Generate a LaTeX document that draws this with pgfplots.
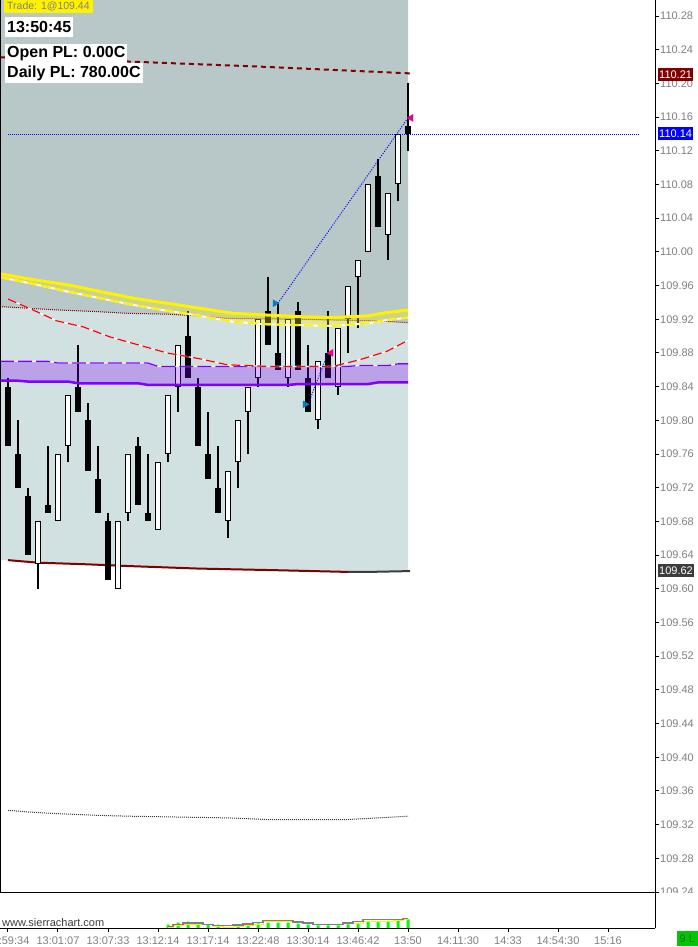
\documentclass[border=0pt]{standalone}
\usepackage{pgfplots}
\pgfplotsset{compat=1.18}
\usepackage{pgfplotstable}
\usepackage{fontspec}
\setmainfont{Liberation Sans}

\definecolor{bgdark}{RGB}{184,199,199}
\definecolor{bglight}{RGB}{209,224,224}
\definecolor{dred}{RGB}{128,0,0}
\definecolor{purp}{RGB}{128,0,255}
\definecolor{tblue}{RGB}{0,128,192}
\definecolor{pblue}{RGB}{0,0,255}
\definecolor{lgray}{RGB}{128,128,128}
\definecolor{dgray}{RGB}{60,60,60}
\definecolor{sgreen}{RGB}{0,255,0}

% range bars: index, open, high, low, close
\pgfplotstableread{
i  o      h      l      c
0  109.84 109.85 109.77 109.77
1  109.76 109.80 109.72 109.72
2  109.71 109.72 109.64 109.64
4  109.70 109.77 109.69 109.69
7  109.84 109.89 109.81 109.81
8  109.80 109.82 109.74 109.74
9  109.73 109.77 109.69 109.69
10 109.68 109.69 109.61 109.61
13 109.77 109.78 109.70 109.70
14 109.69 109.76 109.68 109.68
18 109.90 109.93 109.85 109.85
19 109.84 109.85 109.77 109.77
20 109.76 109.81 109.73 109.73
21 109.72 109.77 109.69 109.69
26 109.93 109.97 109.89 109.89
27 109.88 109.94 109.86 109.86
29 109.93 109.94 109.86 109.86
30 109.85 109.89 109.81 109.81
32 109.88 109.93 109.85 109.85
37 110.09 110.11 110.03 110.03
40 110.15 110.20 110.12 110.14
}\downbars

\pgfplotstableread{
i  o      h      l      c
3  109.63 109.68 109.60 109.68
5  109.68 109.76 109.68 109.76
6  109.77 109.83 109.75 109.83
11 109.60 109.68 109.60 109.68
12 109.69 109.76 109.68 109.76
15 109.67 109.75 109.67 109.75
16 109.76 109.83 109.75 109.83
17 109.84 109.89 109.81 109.89
22 109.68 109.74 109.66 109.74
23 109.75 109.80 109.72 109.80
24 109.81 109.84 109.76 109.84
25 109.85 109.92 109.84 109.92
28 109.85 109.92 109.84 109.92
31 109.80 109.87 109.79 109.87
33 109.84 109.91 109.83 109.91
34 109.92 109.96 109.88 109.96
35 109.97 109.99 109.91 109.99
36 110.00 110.08 110.00 110.08
38 110.02 110.07 109.99 110.07
39 110.08 110.14 110.06 110.14
}\upbars

\pgfplotsset{
  seg/.style 2 args={draw=none, no markers, error bars/.cd, y dir=plus, y explicit,
    error mark=none, error bar style={line width=#1, draw=#2, solid}},
}

\begin{document}
\begin{tikzpicture}[x=1pt,y=1pt]
\fill[white] (0,0) rectangle (698,-947);
\path[use as bounding box] (0,0) rectangle (698,-947);

\begin{axis}[
  at={(0pt,0pt)}, anchor=north west, scale only axis,
  width=655pt, height=892pt,
  xmin=-0.8, xmax=64.7, ymin=109.24, ymax=110.299,
  hide x axis, axis on top,
  axis line style={black, line width=1pt},
  ytick={109.24,109.28,109.32,109.36,109.40,109.44,109.48,109.52,109.56,109.60,109.64,109.68,109.72,109.76,109.80,109.84,109.88,109.92,109.96,110.00,110.04,110.08,110.12,110.16,110.20,110.24,110.28},
  ytick pos=right, yticklabel pos=right,
  tick align=outside, major tick length=4pt,
  tick style={black, line width=1pt},
  scaled y ticks=false,
  /pgf/number format/assume math mode=true,
  yticklabel style={font=\fontsize{11}{11}\selectfont, text=lgray, anchor=west, inner sep=1pt,
    /pgf/number format/fixed, /pgf/number format/fixed zerofill, /pgf/number format/precision=2},
]
% background zones
\addplot[fill=bgdark, draw=none] coordinates {(-0.8,110.299) (40,110.299) (40,109.916) (37,109.918) (29,109.920) (22,109.921) (19,109.924) (16,109.926) (12,109.927) (9,109.929) (5,109.931) (2,109.933) (-0.8,109.935)};
\addplot[fill=bglight, draw=none] coordinates {(-0.8,109.935) (2,109.933) (5,109.931) (9,109.929) (12,109.927) (16,109.926) (19,109.924) (22,109.921) (29,109.920) (37,109.918) (40,109.916) (40,109.621) (36,109.620) (34,109.620) (27,109.622) (19,109.624) (12,109.627) (8,109.629) (3,109.631) (0,109.634) (-0.8,109.634)};
% reference lines
\addplot[dred, line width=1pt, dash pattern=on 1pt off 1pt] coordinates {(-0.8,109.935) (2,109.933) (5,109.931) (9,109.929) (12,109.927) (16,109.926) (19,109.924) (22,109.921) (29,109.920) (37,109.918) (40,109.916)};
\addplot[dred, line width=2pt] coordinates {(0,109.634) (3,109.631) (8,109.629) (12,109.627) (19,109.624) (27,109.622) (34,109.620)};
\addplot[dgray, line width=2pt] coordinates {(34,109.620) (36,109.620) (40.2,109.621)};
\addplot[dgray, line width=1pt, dash pattern=on 1pt off 1pt] coordinates {(0,109.337) (2,109.335) (5,109.333) (9,109.331) (12,109.330) (17,109.329) (22,109.328) (26,109.326) (34,109.326) (37,109.328) (40,109.330)};
\addplot[dred, line width=2pt, dash pattern=on 5pt off 4pt] coordinates {(-0.8,110.231) (12,110.226) (25,110.220) (40,110.212) (40.5,110.211)};
% candles
\addplot[seg={2pt}{black}] table[x=i, y=l, y error expr=\thisrow{h}-\thisrow{l}] {\downbars};
\addplot[seg={2pt}{black}] table[x=i, y=l, y error expr=\thisrow{h}-\thisrow{l}] {\upbars};
\addplot[seg={6pt}{black}] table[x=i, y=c, y error expr=\thisrow{o}-\thisrow{c}] {\downbars};
\addplot[seg={6pt}{black}] table[x=i, y=o, y error expr=\thisrow{c}-\thisrow{o}] {\upbars};
\addplot[seg={4pt}{white}] table[x=i, y expr=\thisrow{o}+0.00119, y error expr=\thisrow{c}-\thisrow{o}-0.00238] {\upbars};
% yellow band
\addplot[fill=yellow, fill opacity=0.3, draw=none] coordinates {(-0.8,109.974) (2.5,109.967) (5.9,109.961) (9.2,109.953) (12.5,109.945) (15.9,109.939) (19.2,109.933) (22.5,109.927) (25.9,109.925) (29.2,109.923) (32.5,109.922) (35.9,109.924) (37.9,109.928) (40,109.931) (40,109.922) (37.9,109.919) (35.9,109.915) (32.5,109.912) (29.2,109.913) (25.9,109.914) (22.5,109.917) (19.2,109.924) (15.9,109.930) (12.5,109.937) (9.2,109.945) (5.9,109.953) (2.5,109.962) (-0.8,109.970)};
\addplot[yellow, line width=3pt] coordinates {(-0.8,109.974) (2.5,109.967) (5.9,109.961) (9.2,109.953) (12.5,109.945) (15.9,109.939) (19.2,109.933) (22.5,109.927) (25.9,109.925) (29.2,109.923) (32.5,109.922) (35.9,109.924) (37.9,109.928) (40,109.931)};
\addplot[white, line width=2pt] coordinates {(-0.8,109.970) (2.5,109.962) (5.9,109.953) (9.2,109.945) (12.5,109.937) (15.9,109.930) (19.2,109.924) (22.5,109.917) (25.9,109.914) (29.2,109.913) (32.5,109.912) (35.9,109.915) (37.9,109.919) (40,109.922)};
\addplot[yellow, line width=2pt, dash pattern=on 10pt off 4pt] coordinates {(-0.8,109.970) (2.5,109.962) (5.9,109.953) (9.2,109.945) (12.5,109.937) (15.9,109.930) (19.2,109.924) (22.5,109.917) (25.9,109.914) (29.2,109.913) (32.5,109.912) (35.9,109.915) (37.9,109.919) (40,109.922)};
% purple band
\addplot[fill=purp, fill opacity=0.28, draw=none] coordinates {(-0.8,109.870) (4,109.870) (5,109.868) (14,109.868) (15,109.864) (34,109.864) (35,109.865) (38,109.865) (39,109.867) (40,109.867) (40,109.845) (37,109.845) (36,109.843) (29,109.843) (28,109.842) (14,109.842) (13,109.844) (7,109.844) (6,109.846) (2,109.846) (1,109.847) (-0.8,109.847)};
\addplot[white, line width=1.3pt] coordinates {(-0.8,109.870) (4,109.870) (5,109.868) (14,109.868) (15,109.864) (34,109.864) (35,109.865) (38,109.865) (39,109.867) (40,109.867)};
\addplot[purp, line width=1.3pt, dash pattern=on 14pt off 4pt] coordinates {(-0.8,109.870) (4,109.870) (5,109.868) (14,109.868) (15,109.864) (34,109.864) (35,109.865) (38,109.865) (39,109.867) (40,109.867)};
\addplot[purp, line width=2.5pt] coordinates {(-0.8,109.847) (1,109.847) (2,109.846) (6,109.846) (7,109.844) (13,109.844) (14,109.842) (28,109.842) (29,109.843) (36,109.843) (37,109.845) (40,109.845)};
% red dashed average
\addplot[white, line width=1.2pt] coordinates {(0,109.944) (2.5,109.931) (4.9,109.918) (7.5,109.911) (10.2,109.899) (13.2,109.889) (15.9,109.880) (19.2,109.873) (21.9,109.866) (25.9,109.864) (32.5,109.864) (35.2,109.872) (37.9,109.882) (40,109.895)};
\addplot[red, line width=1.2pt, dash pattern=on 9pt off 4pt] coordinates {(0,109.944) (2.5,109.931) (4.9,109.918) (7.5,109.911) (10.2,109.899) (13.2,109.889) (15.9,109.880) (19.2,109.873) (21.9,109.866) (25.9,109.864) (32.5,109.864) (35.2,109.872) (37.9,109.882) (40,109.895)};
% last price and trades
\addplot[draw=pblue, line width=1pt, dash pattern=on 1pt off 1pt] coordinates {(0,110.1393) (63.2,110.1393)};
\addplot[draw=pblue, line width=1pt, dash pattern=on 1pt off 1.5pt] coordinates {(27,109.939) (40,110.159)};
\addplot[draw=pblue, line width=1pt, dash pattern=on 1pt off 1.5pt] coordinates {(30,109.819) (32,109.880)};
\addplot[only marks, mark=triangle*, mark size=4pt, mark options={rotate=-90, fill=tblue, draw=tblue}] coordinates {(26.7,109.939) (29.7,109.819)};
\addplot[only marks, mark=triangle*, mark size=4pt, mark options={rotate=90, fill=magenta, draw=magenta}] coordinates {(40.3,110.159) (32.3,109.880)};
\coordinate (v1) at (axis cs:64.7,110.21);
\coordinate (v2) at (axis cs:64.7,110.14);
\coordinate (v3) at (axis cs:64.7,109.622);
\end{axis}

\fill[white] (655.6,-892.5) rectangle (698,-928);

\begin{axis}[
  at={(0pt,-892pt)}, anchor=north west, scale only axis,
  width=655pt, height=36pt,
  xmin=-0.8, xmax=64.7, ymin=0, ymax=36,
  axis x line=box, axis y line*=right,
  axis line style={black, line width=1pt},
  axis background/.style={fill=white},
  ytick=\empty,
  xtick={0,5,...,60},
  xticklabels={12:59:34,13:01:07,13:07:33,13:12:14,13:17:14,13:22:48,13:30:14,13:46:42,13:50,14:11:30,14:33,14:54:30,15:16},
  xtick pos=left, tick align=outside, major tick length=4pt,
  tick style={black, line width=1pt},
  xticklabel style={font=\fontsize{11}{11}\selectfont, text=lgray, inner sep=1pt, yshift=-4pt},
]
\addplot[ybar, bar width=3pt, fill=sgreen, draw=none] coordinates {(16,3.3) (17,5.3) (18,6.3) (19,3.7) (20,3.7) (21,3.3) (22,1) (23,2) (24,3) (25,4.7) (26,5.3) (27,5.3) (28,5.3) (29,4.3) (30,3.3) (31,2.7) (32,2.7) (33,2.7) (34,3.7) (35,4.7) (36,6) (37,6.7) (38,6.7) (39,7.7) (40,8.7)};
\addplot[yellow, line width=1pt, const plot mark mid] coordinates {(16,0.5) (17,2.3) (18,4) (19,4) (20,3.7) (21,1.5) (22,1) (23,1.5) (24,3) (25,4) (26,6.5) (27,6.5) (28,6.5) (29,5.5) (30,4.5) (31,3.5) (32,3.5) (33,3.5) (34,4.3) (35,5) (36,6.5) (37,6.7) (38,6.7) (39,8) (40,8.3)};
\addplot[lgray, line width=1.3pt, const plot mark mid] coordinates {(16,1.5) (17,3.3) (18,5) (19,5) (20,3.7) (21,2.3) (22,2.3) (23,3) (24,4) (25,5.7) (26,7.3) (27,7.3) (28,7.3) (29,6) (30,5) (31,3.7) (32,3.7) (33,3.7) (34,5) (35,6.3) (36,8.3) (37,8.3) (38,8.3) (39,8.7) (40,9.3)};
\end{axis}

% value boxes on the price scale
\tikzset{vbox/.style={anchor=west, text=white, inner xsep=1pt, inner ysep=0pt, minimum height=13pt, font=\fontsize{11}{11}\selectfont}}
\node[vbox, fill=dred] at ([xshift=3pt]v1) {110.21};
\node[vbox, fill=pblue] at ([xshift=3pt]v2) {110.14};
\node[vbox, fill=dgray] at ([xshift=3pt]v3) {109.62};

% chart texts
\node[anchor=north west, fill=yellow, text=lgray, inner xsep=3pt, inner ysep=0pt, minimum height=13pt, font=\fontsize{10.5}{10.5}\selectfont] at (4,0) {Trade: 1@109.44};
\tikzset{pbox/.style={anchor=north west, fill=white, inner xsep=2pt, inner ysep=0pt, minimum height=20pt, font=\bfseries\fontsize{16}{16}\selectfont}}
\node[pbox] at (5,-17) {13:50:45};
\node[pbox, minimum height=19pt] at (5,-44) {Open PL: 0.00C};
\node[pbox] at (5,-63) {Daily PL: 780.00C};
\node[anchor=south west, text=dgray, inner sep=1pt, font=\fontsize{11}{11}\selectfont] at (1,-928) {www.sierrachart.com};
\node[anchor=north east, fill={rgb,255:red,0;green,200;blue,0}, text={rgb,255:red,0;green,110;blue,0}, minimum width=21pt, minimum height=15pt, inner sep=0pt, font=\fontsize{11}{11}\selectfont] at (698,-931) {9 L};
\end{tikzpicture}
\end{document}
